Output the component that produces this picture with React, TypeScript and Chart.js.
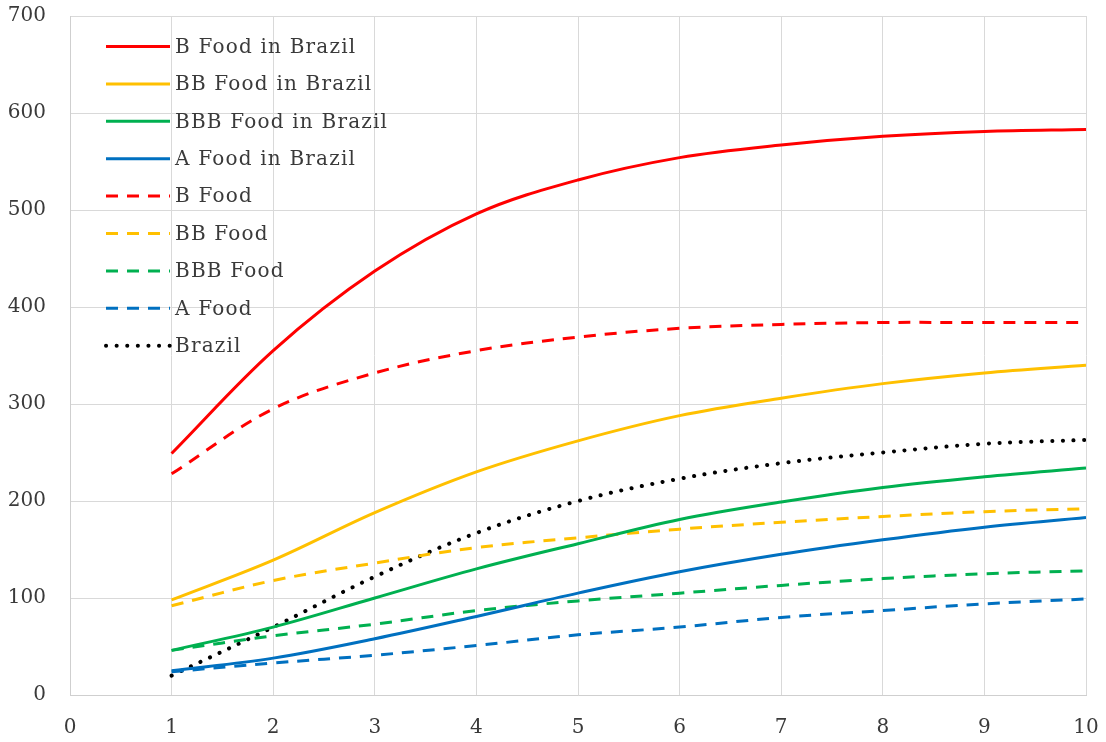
import React, { useEffect, useRef } from 'react';
import { Chart, registerables } from 'chart.js';

Chart.register(...registerables);

// ---- Data ----
const xValues = [1, 2, 3, 4, 5, 6, 7, 8, 9, 10];

const bFoodInBrazil = [249, 355, 437, 496, 531, 554, 567, 576, 581, 583];
const bbFoodInBrazil = [98, 139, 188, 230, 262, 288, 306, 321, 332, 340];
const bbbFoodInBrazil = [46, 70, 100, 130, 156, 181, 199, 214, 225, 234];
const aFoodInBrazil = [25, 38, 58, 81, 105, 127, 145, 160, 173, 183];
const bFood = [228, 295, 332, 355, 369, 378, 382, 384, 384, 384];
const bbFood = [92, 118, 136, 152, 162, 171, 178, 184, 189, 192];
const bbbFood = [46, 61, 73, 87, 97, 105, 113, 120, 125, 128];
const aFood = [24, 33, 41, 51, 62, 70, 80, 87, 94, 99];
const brazil = [20, 70, 122, 167, 200, 223, 239, 250, 259, 263];

const seriesNames = [
  'B Food in Brazil',
  'BB Food in Brazil',
  'BBB Food in Brazil',
  'A Food in Brazil',
  'B Food',
  'BB Food',
  'BBB Food',
  'A Food',
  'Brazil',
];
const seriesValues = [
  bFoodInBrazil,
  bbFoodInBrazil,
  bbbFoodInBrazil,
  aFoodInBrazil,
  bFood,
  bbFood,
  bbbFood,
  aFood,
  brazil,
];
const seriesColors = [
  '#FF0000',
  '#FFC000',
  '#00B050',
  '#0070C0',
  '#FF0000',
  '#FFC000',
  '#00B050',
  '#0070C0',
  '#000000',
];
const seriesStyles = ['solid', 'solid', 'solid', 'solid', 'dash', 'dash', 'dash', 'dash', 'dot'];

const xMin = 0;
const xMax = 10;
const yMin = 0;
const yMax = 700;
const yStep = 100;

const FONT_FAMILY = '"DejaVu Serif", serif';
const TEXT_COLOR = '#3a3a3a';
const GRID_COLOR = '#D9D9D9';

const dashFor = (style: string) =>
  style === 'dash' ? [12, 9] : style === 'dot' ? [0.1, 10.5] : [];

export default function App() {
  const canvasRef = useRef<HTMLCanvasElement>(null);

  useEffect(() => {
    if (!canvasRef.current) return;

    const datasets = seriesNames.map((name, i) => ({
      label: name,
      data: xValues.map((x, j) => ({ x, y: seriesValues[i][j] })),
      borderColor: seriesColors[i],
      backgroundColor: seriesColors[i],
      borderWidth: seriesStyles[i] === 'dot' ? 4 : 3,
      borderDash: dashFor(seriesStyles[i]),
      borderCapStyle: seriesStyles[i] === 'dot' ? 'round' : 'butt',
      pointRadius: 0,
      pointHoverRadius: 0,
      tension: 0.35,
      fill: false,
    }));

    const legendPlugin = {
      id: 'insideLegend',
      afterDraw(chart: any) {
        const ctx = chart.ctx as CanvasRenderingContext2D;
        const area = chart.chartArea;
        const lineX0 = area.left + 36;
        const lineX1 = area.left + 100;
        const textX = lineX1 + 5;
        const row0 = area.top + 30.5;
        const rowH = 37.4;
        ctx.save();
        seriesNames.forEach((name, i) => {
          const y = row0 + i * rowH;
          const style = seriesStyles[i];
          ctx.beginPath();
          ctx.setLineDash(dashFor(style));
          ctx.lineCap = style === 'dot' ? 'round' : 'butt';
          ctx.lineWidth = style === 'dot' ? 4 : 3;
          ctx.strokeStyle = seriesColors[i];
          ctx.moveTo(lineX0, y);
          ctx.lineTo(lineX1, y);
          ctx.stroke();
          ctx.setLineDash([]);
          ctx.font = `20px ${FONT_FAMILY}`;
          (ctx as any).letterSpacing = '1.2px';
          ctx.fillStyle = TEXT_COLOR;
          ctx.textAlign = 'left';
          ctx.textBaseline = 'middle';
          ctx.fillText(name, textX, y + 1);
        });
        ctx.restore();
      },
    };

    const chart = new Chart(canvasRef.current, {
      type: 'line',
      data: { datasets: datasets as any },
      options: {
        animation: false,
        responsive: true,
        maintainAspectRatio: false,
        layout: { padding: { top: 16, right: 20, left: 0, bottom: 0 } },
        plugins: {
          legend: { display: false },
          tooltip: { enabled: false },
        },
        scales: {
          x: {
            type: 'linear',
            min: xMin,
            max: xMax,
            ticks: {
              stepSize: 1,
              padding: 21,
              color: TEXT_COLOR,
              font: { family: FONT_FAMILY, size: 20 },
            },
            grid: { color: GRID_COLOR, lineWidth: 1, drawTicks: false },
            border: { color: '#CFCFCF', width: 1 },
            afterFit: (scale: any) => {
              scale.height = 47;
              scale.paddingLeft = 0;
              scale.paddingRight = 0;
            },
          },
          y: {
            type: 'linear',
            min: yMin,
            max: yMax,
            ticks: {
              stepSize: yStep,
              padding: 24,
              color: TEXT_COLOR,
              font: { family: FONT_FAMILY, size: 20 },
            },
            grid: { color: GRID_COLOR, lineWidth: 1, drawTicks: false },
            border: { color: '#CFCFCF', width: 1 },
            afterFit: (scale: any) => {
              scale.width = 70;
              scale.paddingTop = 0;
              scale.paddingBottom = 0;
            },
          },
        },
      } as any,
      plugins: [legendPlugin],
    });

    return () => chart.destroy();
  }, []);

  return (
    <div style={{ position: 'absolute', left: 0, top: 0, width: 1106, height: 742, background: '#fff' }}>
      <canvas ref={canvasRef} />
    </div>
  );
}
